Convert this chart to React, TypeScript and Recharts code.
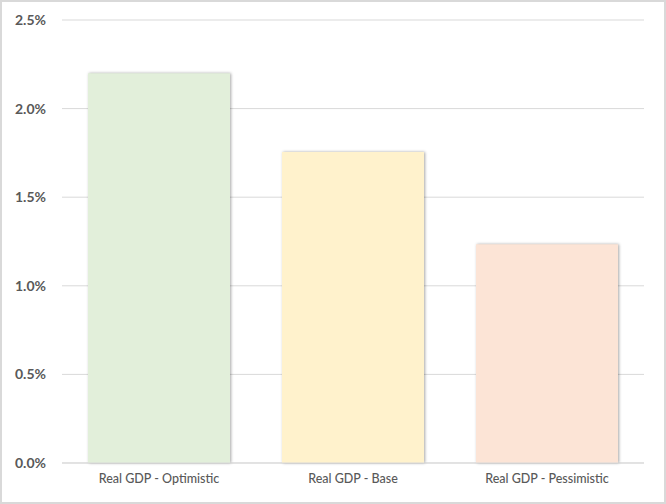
import React from 'react';
import { BarChart, Bar, XAxis, YAxis, CartesianGrid, Cell, Rectangle } from 'recharts';

const categories = ['Real GDP - Optimistic', 'Real GDP - Base', 'Real GDP - Pessimistic'];
const growthValues = [2.2, 1.755, 1.235];
const barColors = ['#E2EFDA', '#FFF2CC', '#FCE4D6'];
const yTicks = [0, 0.5, 1.0, 1.5, 2.0, 2.5];

const data = categories.map((name, i) => ({ name, value: growthValues[i] }));

const ShadowBar = (props: any) => (
  <Rectangle {...props} style={{ filter: 'drop-shadow(1px 0px 1.5px rgba(0,0,0,0.35))' }} />
);

export default function App() {
  return (
    <div
      style={{
        position: 'absolute',
        left: 0,
        top: 0,
        width: 666,
        height: 504,
        border: '2px solid #d9d9d9',
        boxSizing: 'border-box',
        background: '#fff',
      }}
    >
      <div style={{ position: 'absolute', left: -2, top: -2 }}>
        <BarChart
          width={666}
          height={504}
          data={data}
          margin={{ top: 20, right: 22, bottom: 0, left: 0 }}
          barCategoryGap="13.4%"
        >
          <CartesianGrid vertical={false} stroke="#d9d9d9" strokeWidth={1} />
          <XAxis
            dataKey="name"
            axisLine={{ stroke: '#d9d9d9', strokeWidth: 1 }}
            tickLine={false}
            tickSize={0}
            tickMargin={11}
            height={41}
            tick={{ fill: '#595959', fontSize: 12.5, fontWeight: 500, fontFamily: 'Lato, sans-serif' }}
          />
          <YAxis
            width={62}
            domain={[0, 2.5]}
            ticks={yTicks}
            axisLine={false}
            tickLine={false}
            tickSize={6}
            tickMargin={10}
            tickFormatter={(v: number) => `${v.toFixed(1)}%`}
            tick={{ fill: '#595959', fontSize: 14, fontWeight: 'bold', fontFamily: 'Lato, sans-serif' }}
          />
          <Bar dataKey="value" isAnimationActive={false} shape={ShadowBar}>
            {data.map((d, i) => (
              <Cell key={d.name} fill={barColors[i]} />
            ))}
          </Bar>
        </BarChart>
      </div>
    </div>
  );
}
